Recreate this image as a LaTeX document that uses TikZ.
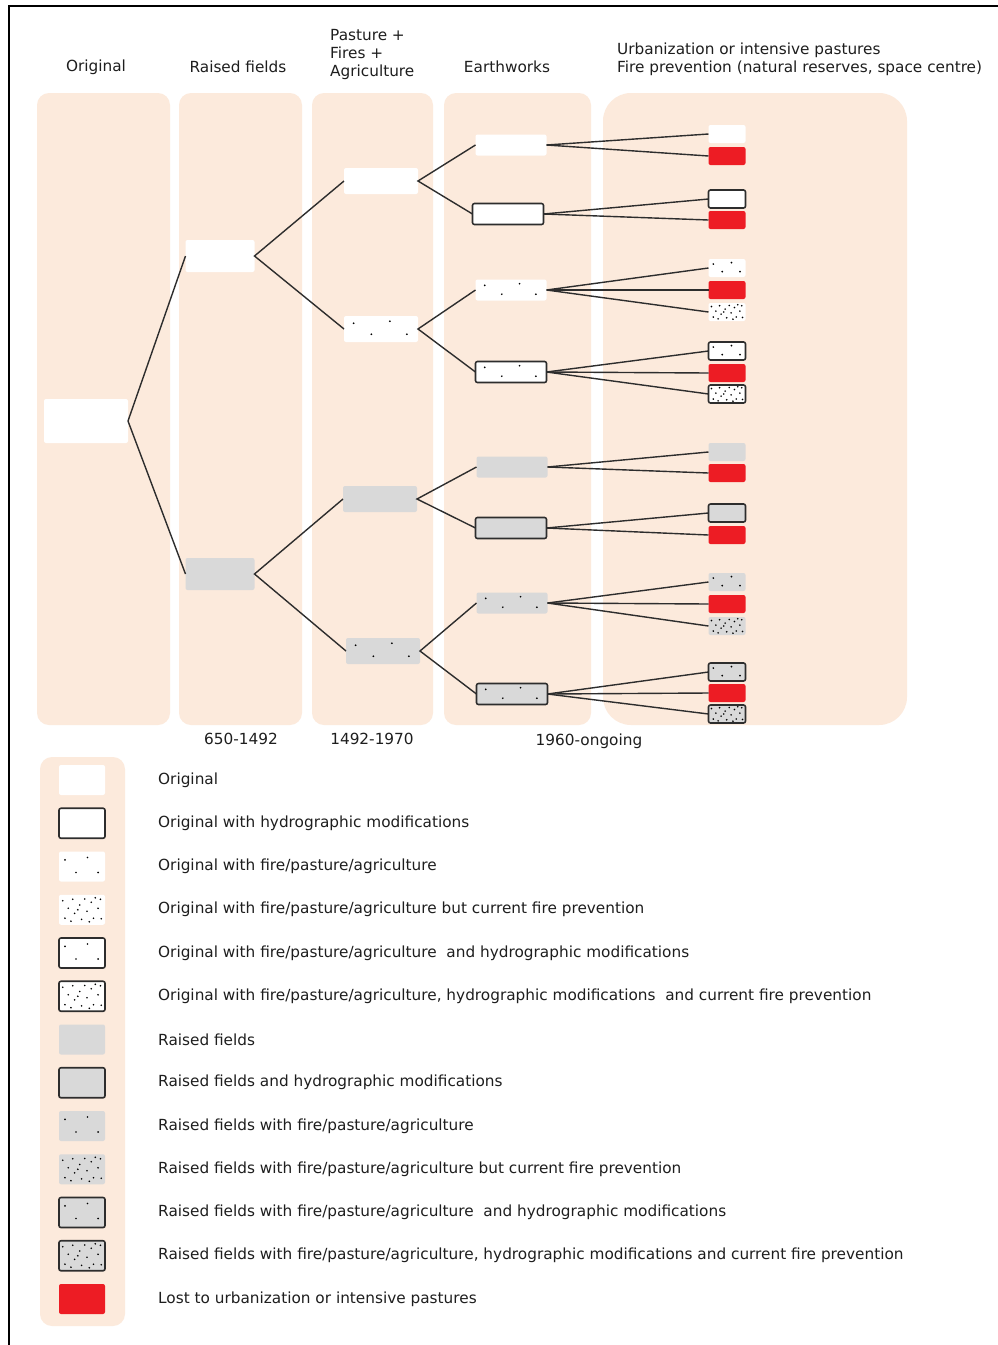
\documentclass[tikz,border=0pt]{standalone}
\usepackage{fontspec}
\setmainfont{DejaVu Sans}
\usetikzlibrary{calc}
\definecolor{peach}{RGB}{252,234,220}
\definecolor{gry}{RGB}{217,217,217}
\definecolor{redc}{RGB}{237,28,36}
\definecolor{ink}{RGB}{45,45,45}
\definecolor{txt}{RGB}{30,30,30}
\tikzset{
  box/.style={rectangle, rounded corners=2pt, inner sep=0pt, outer sep=0pt},
  hyd/.style={draw=ink, line width=1.6pt},
  few/.style={path picture={\foreach \a/\b in {0.13/0.72,0.37/0.3,0.62/0.8,0.85/0.3}{\fill[black] let \p1=(path picture bounding box.south west), \p2=(path picture bounding box.north east) in ({\x1+\a*(\x2-\x1)},{\y1+\b*(\y2-\y1)}) circle (0.95pt);}}},
  dense/.style={path picture={\foreach \a/\b in {0.08/0.8,0.2/0.55,0.13/0.22,0.3/0.85,0.34/0.38,0.45/0.66,0.49/0.18,0.56/0.86,0.61/0.45,0.7/0.75,0.75/0.22,0.85/0.55,0.9/0.85,0.92/0.2,0.26/0.12,0.41/0.5,0.66/0.1,0.79/0.9}{\fill[black] let \p1=(path picture bounding box.south west), \p2=(path picture bounding box.north east) in ({\x1+\a*(\x2-\x1)},{\y1+\b*(\y2-\y1)}) circle (0.9pt);}}},
  sO/.style={box, fill=white},
  sOH/.style={box, fill=white, hyd},
  sOF/.style={box, fill=white, few},
  sOD/.style={box, fill=white, dense},
  sOFH/.style={box, fill=white, few, hyd},
  sODH/.style={box, fill=white, dense, hyd},
  sR/.style={box, fill=gry},
  sRH/.style={box, fill=gry, hyd},
  sRF/.style={box, fill=gry, few},
  sRD/.style={box, fill=gry, dense},
  sRFH/.style={box, fill=gry, few, hyd},
  sRDH/.style={box, fill=gry, dense, hyd},
  sL/.style={box, fill=redc},
  panel/.style={fill=peach, rounded corners=12pt},
  conn/.style={draw=ink, line width=1.4pt},
  lbl/.style={text=txt, font=\fontsize{15.3}{18}\selectfont, inner sep=0pt},
  lv0/.style={minimum width=84pt, minimum height=44pt},
  lv1/.style={minimum width=69pt, minimum height=32pt},
  lv2/.style={minimum width=74pt, minimum height=26pt},
  lv3/.style={minimum width=71pt, minimum height=21pt},
  lf/.style={minimum width=37pt, minimum height=18pt},
  lg/.style={minimum width=46pt, minimum height=30pt},
}
\begin{document}
\begin{tikzpicture}[x=1pt, y=-1pt]
\useasboundingbox (0,0) rectangle (998,1345);
\fill[white] (0,0) rectangle (998,1345);
\draw[black, line width=2pt] (9,1345) -- (9,6) -- (998,6);
% panels
\fill[panel] (37,93) rectangle (170,725);
\fill[panel] (179,93) rectangle (302,725);
\fill[panel] (312,93) rectangle (433,725);
\fill[panel] (444,93) rectangle (591,725);
\fill[panel, rounded corners=28pt] (603,93) rectangle (907,725);
\fill[panel] (40,757) rectangle (125,1326);
% headers
\node[lbl] (h1) at (96,67) {Original};
\node[lbl] (h2) at (238,67) {Raised fields};
\node[lbl, anchor=west, align=left] (h3) at (330,55) {Pasture +\\Fires +\\Agriculture};
\node[lbl] (h4) at (507,67) {Earthworks};
\node[lbl, anchor=west, align=left] (h5) at (617,59) {Urbanization or intensive pastures\\Fire prevention (natural reserves, space centre)};
\node[lbl] (d1) at (241,739) {650-1492};
\node[lbl] (d2) at (372,739) {1492-1970};
\node[lbl] (d3) at (589,741) {1960-ongoing};
% tree
\node[sO, lv0] (root) at (86,421) {};
\node[sO, lv1] (A) at (220,256) {};
\node[sR, lv1] (B) at (220,574) {};
\node[sO, lv2] (A1) at (381,181) {};
\node[sOF, lv2] (A2) at (381,329) {};
\node[sR, lv2] (B1) at (380,499) {};
\node[sRF, lv2] (B2) at (383,651) {};
\node[sO, lv3] (A1a) at (511,145) {};
\node[sOH, lv3] (A1b) at (508,214) {};
\node[sOF, lv3] (A2a) at (511,290) {};
\node[sOFH, lv3] (A2b) at (511,372) {};
\node[sR, lv3] (B1a) at (512,467) {};
\node[sRH, lv3] (B1b) at (511,528) {};
\node[sRF, lv3] (B2a) at (512,603) {};
\node[sRFH, lv3] (B2b) at (512,694) {};
\foreach \n/\y/\s in {1/134/sO, 2/156/sL, 3/199/sOH, 4/220/sL, 5/268/sOF, 6/290/sL, 7/312/sOD, 8/351/sOFH, 9/373/sL, 10/394/sODH, 11/452/sR, 12/473/sL, 13/513/sRH, 14/535/sL, 15/582/sRF, 16/604/sL, 17/626/sRD, 18/672/sRFH, 19/693/sL, 20/714/sRDH}
  \node[\s, lf] (l\n) at (727,\y) {};
% connectors
\draw[conn] (A.west) -- (root.east) -- (B.west);
\draw[conn] (A1.west) -- (A.east) -- (A2.west);
\draw[conn] (B1.west) -- (B.east) -- (B2.west);
\draw[conn] (A1a.west) -- (A1.east) -- (A1b.west);
\draw[conn] (A2a.west) -- (A2.east) -- (A2b.west);
\draw[conn] (B1a.west) -- (B1.east) -- (B1b.west);
\draw[conn] (B2a.west) -- (B2.east) -- (B2b.west);
\foreach \p/\c in {A1a/1, A1a/2, A1b/3, A1b/4, A2a/5, A2a/6, A2a/7, A2b/8, A2b/9, A2b/10, B1a/11, B1a/12, B1b/13, B1b/14, B2a/15, B2a/16, B2a/17, B2b/18, B2b/19, B2b/20}
  \draw[conn] (\p.east) -- (l\c.west);
% legend
\foreach \i/\s/\t in {
  0/sO/{Original},
  1/sOH/{Original with hydrographic modifications},
  2/sOF/{Original with fire/pasture/agriculture},
  3/sOD/{Original with fire/pasture/agriculture but current fire prevention},
  4/sOFH/{Original with fire/pasture/agriculture \ and hydrographic modifications},
  5/sODH/{Original with fire/pasture/agriculture, hydrographic modifications \ and current fire prevention},
  6/sR/{Raised fields},
  7/sRH/{Raised fields and hydrographic modifications},
  8/sRF/{Raised fields with fire/pasture/agriculture},
  9/sRD/{Raised fields with fire/pasture/agriculture but current fire prevention},
  10/sRFH/{Raised fields with fire/pasture/agriculture \ and hydrographic modifications},
  11/sRDH/{Raised fields with fire/pasture/agriculture, hydrographic modifications and current fire prevention},
  12/sL/{Lost to urbanization or intensive pastures}}
{
  \node[\s, lg] (g\i) at (82,780+\i*43.25) {};
  \node[lbl, anchor=west] (gt\i) at (158,780+\i*43.25) {\t};
}
\end{tikzpicture}
\end{document}
